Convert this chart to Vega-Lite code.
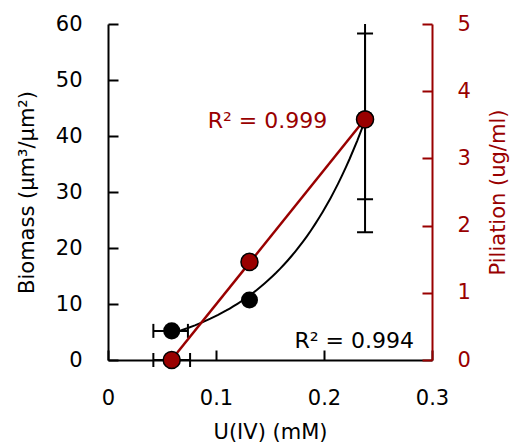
{
  "$schema": "https://vega.github.io/schema/vega-lite/v6.json",
  "width": 324,
  "height": 336,
  "autosize": {"type": "none"},
  "padding": {"left": 108, "top": 24, "right": 86, "bottom": 88},
  "background": "white",
  "config": {
    "view": {"stroke": null},
    "font": "DejaVu Sans",
    "axis": {
      "grid": false,
      "labelFont": "DejaVu Sans",
      "titleFont": "DejaVu Sans",
      "labelFontSize": 21,
      "titleFontSize": 21,
      "titleFontWeight": "normal",
      "domainWidth": 2,
      "tickWidth": 2,
      "tickSize": -10,
      "labelFlush": false,
      "labelOverlap": false,
      "domainColor": "black",
      "tickColor": "black",
      "labelColor": "black",
      "titleColor": "black"
    }
  },
  "datasets": {
    "bioPts": [{"u": 0.059, "b": 5.2}, {"u": 0.131, "b": 10.7}, {"u": 0.238, "b": 43.1}],
    "bioErrH": [{"u": 0.042, "u2": 0.074, "b": 5.2}],
    "bioErrV": [{"u": 0.238, "b": 28.7, "b2": 58.3}],
    "bioCapsH": [{"u": 0.042, "b": 5.2}, {"u": 0.074, "b": 5.2}],
    "bioCapsV": [{"u": 0.238, "b": 28.7}, {"u": 0.238, "b": 58.3}],
    "labels": [
      {"u": 0.1477, "b": 41.5, "label": "R² = 0.999", "series": "piliation"},
      {"u": 0.228, "b": 2.1, "label": "R² = 0.994", "series": "biomass"}
    ],
    "pilPts": [{"u": 0.059, "b": 0}, {"u": 0.131, "b": 1.46}, {"u": 0.238, "b": 3.58}],
    "pilErrH": [{"u": 0.042, "u2": 0.076, "b": 0}],
    "pilErrV": [{"u": 0.238, "b": 1.9, "b2": 5.3}],
    "pilCapsH": [{"u": 0.042, "b": 0}, {"u": 0.076, "b": 0}],
    "pilCapsV": [{"u": 0.238, "b": 1.9}]
  },
  "encoding": {
    "x": {
      "field": "u", "type": "quantitative",
      "scale": {"domain": [0, 0.3], "nice": false, "zero": false},
      "axis": {
        "orient": "bottom", "title": "U(IV) (mM)", "values": [0, 0.1, 0.2, 0.3],
        "format": "~g", "labelPadding": 37, "titlePadding": 13
      }
    }
  },
  "layer": [
    {
      "encoding": {
        "y": {
          "field": "b", "type": "quantitative",
          "scale": {"domain": [0, 60], "nice": false},
          "axis": {
            "orient": "left", "title": "Biomass (µm³/µm²)", "values": [0, 10, 20, 30, 40, 50, 60],
            "labelPadding": 36, "titlePadding": 18
          }
        }
      },
      "layer": [
        {
          "data": {"name": "bioErrH"},
          "mark": {"type": "rule", "color": "black", "strokeWidth": 2},
          "encoding": {"x2": {"field": "u2"}}
        },
        {
          "data": {"name": "bioErrV"},
          "mark": {"type": "rule", "color": "black", "strokeWidth": 2, "clip": true},
          "encoding": {"y2": {"field": "b2"}}
        },
        {
          "data": {"name": "bioCapsH"},
          "mark": {"type": "tick", "orient": "vertical", "color": "black", "size": 14, "thickness": 2, "opacity": 1}
        },
        {
          "data": {"name": "bioCapsV"},
          "mark": {"type": "tick", "orient": "horizontal", "color": "black", "size": 16, "thickness": 2, "opacity": 1}
        },
        {
          "data": {"name": "bioPts"},
          "transform": [{"regression": "b", "on": "u", "method": "exp"}],
          "mark": {"type": "line", "color": "black", "strokeWidth": 2}
        },
        {
          "data": {"name": "bioPts"},
          "mark": {"type": "circle", "color": "black", "size": 290, "opacity": 1}
        },
        {
          "data": {"name": "labels"},
          "transform": [{"filter": "datum.series === 'biomass'"}],
          "mark": {"type": "text", "color": "black", "fontSize": 22, "font": "DejaVu Sans", "baseline": "alphabetic", "align": "center"},
          "encoding": {"text": {"field": "label"}}
        },
        {
          "data": {"name": "labels"},
          "transform": [{"filter": "datum.series === 'piliation'"}],
          "mark": {"type": "text", "color": "#990000", "fontSize": 22, "font": "DejaVu Sans", "baseline": "alphabetic", "align": "center"},
          "encoding": {"text": {"field": "label"}}
        }
      ]
    },
    {
      "encoding": {
        "y": {
          "field": "b", "type": "quantitative",
          "scale": {"domain": [0, 5], "nice": false},
          "axis": {
            "orient": "right", "title": "Piliation (ug/ml)", "values": [0, 1, 2, 3, 4, 5],
            "labelPadding": 35, "titlePadding": 17, "titleAngle": -90, "titleBaseline": "top",
            "domainColor": "#990000", "tickColor": "#990000", "labelColor": "#990000", "titleColor": "#990000"
          }
        }
      },
      "layer": [
        {
          "data": {"name": "pilErrH"},
          "mark": {"type": "rule", "color": "black", "strokeWidth": 2},
          "encoding": {"x2": {"field": "u2"}}
        },
        {
          "data": {"name": "pilErrV"},
          "mark": {"type": "rule", "color": "black", "strokeWidth": 2, "clip": true},
          "encoding": {"y2": {"field": "b2"}}
        },
        {
          "data": {"name": "pilCapsH"},
          "mark": {"type": "tick", "orient": "vertical", "color": "black", "size": 14, "thickness": 2, "opacity": 1}
        },
        {
          "data": {"name": "pilCapsV"},
          "mark": {"type": "tick", "orient": "horizontal", "color": "black", "size": 16, "thickness": 2, "opacity": 1}
        },
        {
          "data": {"name": "pilPts"},
          "transform": [{"regression": "b", "on": "u", "method": "linear"}],
          "mark": {"type": "line", "color": "#990000", "strokeWidth": 2.5}
        },
        {
          "data": {"name": "pilPts"},
          "mark": {"type": "circle", "color": "#990000", "size": 290, "opacity": 1, "stroke": "black", "strokeWidth": 1.5}
        }
      ]
    }
  ],
  "resolve": {"scale": {"y": "independent"}, "axis": {"y": "independent"}}
}
